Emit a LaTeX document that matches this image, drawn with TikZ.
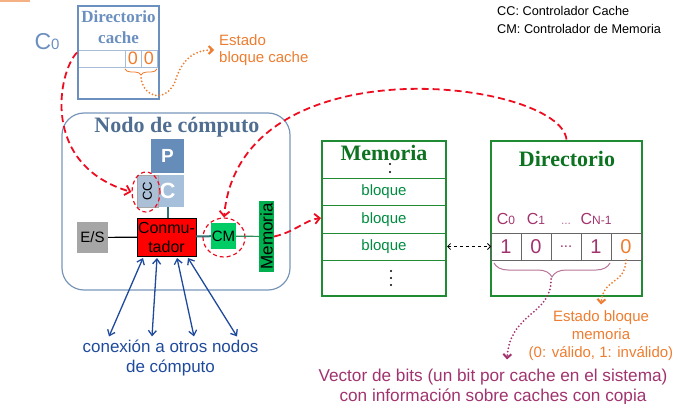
\documentclass[tikz,border=0pt]{standalone}
\usepackage{fontspec}
\setmainfont{Liberation Sans}
\newfontfamily\titlefont{Liberation Serif}
\definecolor{cache_c}{rgb}{
	0.42, 0.56, 0.75
	}
\definecolor{nodo_t}{rgb}{
	0.31, 0.43, 0.57
	}
\definecolor{nodo_b}{rgb}{
	0.47, 0.59, 0.73
	}
\definecolor{red_d}{rgb}{
	0.93, 0.05, 0.13
	}
\definecolor{red_c}{rgb}{
	1.0, 0.0, 0.0
	}
\definecolor{cm_c}{rgb}{
	0.0, 0.8, 0.4
	}
\definecolor{mbar_c}{rgb}{
	0.0, 0.69, 0.31
	}
\definecolor{green_b}{rgb}{
	0.12, 0.55, 0.2
	}
\definecolor{title_g}{rgb}{
	0.05, 0.45, 0.13
	}
\definecolor{blq_c}{rgb}{
	0.0, 0.55, 0.25
	}
\definecolor{vec_c}{rgb}{
	0.63, 0.2, 0.43
	}
\definecolor{brace_c}{rgb}{
	0.72, 0.45, 0.6
	}
\definecolor{orange_c}{rgb}{
	0.93, 0.49, 0.19
	}
\definecolor{blue_c}{rgb}{
	0.12, 0.29, 0.61
	}
\definecolor{es_c}{rgb}{
	0.65, 0.65, 0.65
	}
\definecolor{p_c}{rgb}{
	0.4, 0.55, 0.73
	}
\definecolor{c_c}{rgb}{
	0.65, 0.75, 0.86
	}
\definecolor{cc_c}{rgb}{
	0.67, 0.75, 0.84
	}
\definecolor{teal_c}{rgb}{
	0.2, 0.45, 0.45
	}
\definecolor{line_g}{rgb}{
	0.2, 0.55, 0.35
	}
\usetikzlibrary{arrows.meta,
                calc,
                positioning,
		shapes.geometric,
		decorations.pathreplacing}
\newcommand{\fsz}[2]{\fontsize{#1}{#2}\selectfont}

\begin{document}
\begin{tikzpicture}[
			x=1pt, y=-1pt,
			ttl/.style = {font=\titlefont\bfseries\fsz{22}{26}, inner sep=0},
			unit/.style = {inner sep=0, outer sep=0},
			gbox/.style = {draw=green_b, line width=2},
			row/.style = {draw=green_b, line width=1, minimum width=124, minimum height=27.5, unit, text=blq_c, font=\fsz{15}{15}},
			cell/.style = {draw=black!60, line width=1, minimum width=30, minimum height=27, unit, font=\fsz{20}{20}},
			ccell/.style = {draw=cache_c!60, line width=0.8, minimum width=16, minimum height=17, unit, text=orange_c, font=\fsz{18}{18}},
			lbl/.style = {text=vec_c, font=\fsz{16}{16}, inner sep=0},
			ring/.style = {ellipse, draw=red_d, line width=1.2, dash pattern=on 4pt off 3pt},
			reddash/.style = {draw=red_d, line width=1.8, dash pattern=on 7pt off 4pt, -{Straight Barb[length=5pt,width=10pt]}},
			odot/.style = {draw=orange_c, line width=2, dash pattern=on 0pt off 3.5pt, line cap=round, -{Straight Barb[length=4pt,width=8pt]}},
			vdot/.style = {odot, draw=vec_c},
			blarrow/.style = {draw=blue_c, line width=1.3, {Straight Barb[length=5pt,width=8pt]}-{Straight Barb[length=5pt,width=8pt]}},
			]
			\useasboundingbox (0,0) rectangle (688,404);
			\fill[orange_c!60] (0,0) rectangle (30,2);
			% directorio cache
			\node[draw=cache_c, line width=2, minimum width=81, minimum height=92] (dircache) at (118.5,52.5) {};
			\node[font=\titlefont\bfseries\fsz{17}{21}, text=cache_c, align=center, inner sep=0] (dctitle) at (118.5,27) {Directorio\\cache};
			\draw[cache_c!60, line width=0.8] (79,50) -- (158,50) (79,67) -- (158,67);
			\node[ccell] (s0) at (133,58.5) {0};
			\node[ccell, right=0pt of s0] (s1) {0};
			\draw[orange_c, line width=0.8, decorate, decoration={brace, mirror, amplitude=6pt}]
			([yshift=-2pt]s0.south west) -- ([yshift=-2pt]s1.south east);
			\coordinate (bc) at ($(s0.south east)+(0,11)$);
			\node[text=cache_c, font=\fsz{23}{23}] (c0) at (47,42) {C\fsz{15}{15}0};
			\node[text=orange_c, font=\fsz{15}{17}, align=left, anchor=west, inner sep=0] (estcache) at (219,50) {Estado\\bloque cache};
			% nodo de computo
			\node[draw=nodo_b, line width=1.2, rounded corners=22pt, minimum width=228, minimum height=177] (nodo) at (176,201.5) {};
			\node[ttl, text=nodo_t] (nodotitle) at (177,127.5) {Nodo de cómputo};
			\node[fill=p_c, minimum width=33, minimum height=34, unit, text=white, font=\bfseries\fsz{19}{19}] (p) at (167.5,156) {P};
			\node[fill=c_c, minimum width=33, minimum height=32, unit, text=white, font=\bfseries\fsz{22}{22}] (c) at (167.5,191) {C};
			\node[fill=cc_c, draw=black!35, minimum width=21, minimum height=32, unit, font=\fsz{13}{13}] (cc) at (147.5,191) {\rotatebox{90}{CC}};
			\node[fill=red_c, draw=black, line width=1, minimum width=59, minimum height=38, unit, align=center, font=\fsz{16}{19}] (conm) at (166.5,237) {Conmu-\\tador};
			\node[fill=es_c, minimum width=31, minimum height=31, unit, font=\fsz{15}{15}] (es) at (92.5,237.5) {E/S};
			\node[fill=cm_c, minimum width=25, minimum height=26, unit, font=\fsz{15}{15}] (cm) at (223.5,236) {CM};
			\node[fill=mbar_c, minimum width=15, minimum height=71, unit, font=\fsz{17}{17}] (membar) at (266.5,236.5) {\rotatebox{90}{Memoria}};
			\node[ring, minimum width=28, minimum height=40] (ccring) at (146,192) {};
			\node[ring, minimum width=42, minimum height=39] (cmring) at (224,237.5) {};
			\draw[line width=1.2] (es) -- (conm);
			\draw[teal_c, line width=2] (c.south) -- (c.south |- conm.north);
			\draw[teal_c, line width=2] (conm) -- (cm);
			\draw[line_g, line width=1.2] (cm) -- (membar);
			\node[text=blue_c, align=center, font=\fsz{17}{20}] (conex) at (170.5,358) {conexión a otros nodos\\de cómputo};
			\foreach \a/\b in {-23.5/-61.5, -9.5/-18.5, 10.5/23.5, 21.5/66.5}
			\draw[blarrow] ([shift={(\a pt,-2pt)}]conm.south) -- ([xshift=\b pt]conex.north);
			% memoria
			\node[gbox, minimum width=124, minimum height=155] (mem) at (384,218) {};
			\node[ttl, text=title_g] (memtitle) at (384,152.5) {Memoria};
			\foreach \y in {164,172}
			\fill (390,\y) circle (1.2);
			\node[row] (b1) at (384,192) {bloque};
			\node[row, below=0pt of b1] (b2) {bloque};
			\node[row, below=0pt of b2] (b3) {bloque};
			\foreach \y in {271,278,285}
			\fill (391,\y) circle (1.2);
			% directorio
			\node[gbox, minimum width=151, minimum height=155] (dir) at (566.5,218) {};
			\node[ttl, text=title_g] (dirtitle) at (567,158.5) {Directorio};
			\node[cell, text=vec_c] (k0) at (506,246.5) {1};
			\node[cell, right=0pt of k0, text=vec_c] (k1) {0};
			\node[cell, right=0pt of k1, text=vec_c, font=\fsz{15}{15}] (k2) {...};
			\node[cell, right=0pt of k2, text=vec_c] (k3) {1};
			\node[cell, right=0pt of k3, text=orange_c] (k4) {0};
			\node[lbl, above=8pt of k0] (l0) {C\fsz{12}{12}0};
			\node[lbl, above=8pt of k1] (l1) {C\fsz{12}{12}1};
			\node[lbl, above=8pt of k2, text=vec_c!70] (l2) {\fsz{12}{12}...};
			\node[lbl, above=8pt of k3] (l3) {C\fsz{12}{12}N-1};
			\draw[black, line width=0.8, dashed, {Straight Barb[length=3pt,width=6pt]}-{Straight Barb[length=3pt,width=6pt]}]
			(mem.east |- k0.west) -- (k0.west);
			\draw[brace_c, line width=1, decorate, decoration={brace, mirror, amplitude=14pt}]
			([shift={(3pt,-3pt)}]k0.south west) -- ([shift={(-1pt,-3pt)}]k3.south east);
			\coordinate (vb) at ($(k0.south west)!0.5!(k3.south east)+(0,19)$);
			% notes
			\node[text=orange_c, align=center, font=\fsz{15}{18}] (estmem) at (601,336) {Estado bloque\\memoria\\(0: válido, 1: inválido)};
			\node[text=vec_c, align=center, font=\fsz{17.2}{20}] (vec) at (493,387) {Vector de bits (un bit por cache en el sistema)\\con información sobre caches con copia};
			\node[anchor=north west, align=left, font=\fsz{12.7}{18}, inner sep=0] (legend) at (497,6) {CC: Controlador Cache\\CM: Controlador de Memoria};
			% edges
			\draw[odot] (bc) .. controls (144,98) and (165,103) .. (175,82) .. controls (182,58) and (195,50) .. ([xshift=-5pt]estcache.west);
			\draw[odot] (k4.south) .. controls (625,285) and (603,278) .. ([yshift=3pt]estmem.north);
			\draw[vdot] (vb) .. controls (552,315) and (510,312) .. ([shift={(14pt,6pt)}]vec.north);
			\draw[reddash] (dircache.west) .. controls (58,72) and (40,165) .. (ccring.west);
			\draw[reddash] (dir.north) .. controls (560,80) and (240,40) .. (cmring.north);
			\draw[reddash] (membar.east) .. controls (295,232) and (305,220) .. (mem.west);
		\end{tikzpicture}
\end{document}
